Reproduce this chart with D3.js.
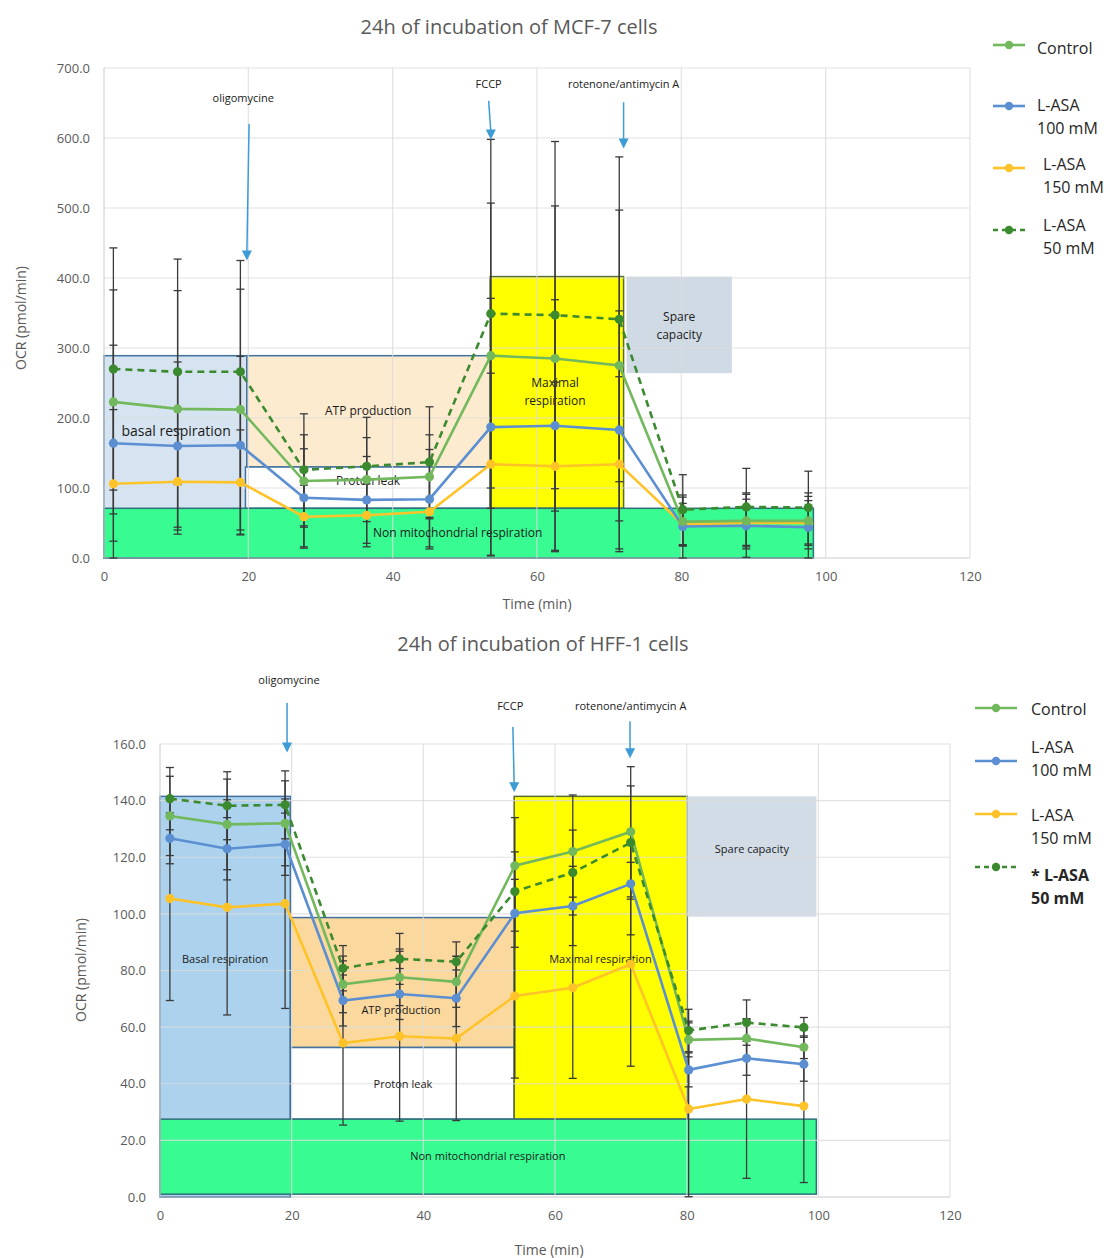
<!DOCTYPE html>
<html><head><meta charset="utf-8">
<script src="https://cdn.jsdelivr.net/npm/d3@7"></script>
<style>body{margin:0;background:#fff}svg{display:block}text{font-family:"Open Sans",sans-serif}</style>
</head><body><svg id="c" width="1110" height="1258"></svg>
<script>
// ---------- Data: MCF-7 ----------
const mcfTimes = [1.3, 10.2, 18.9, 27.7, 36.4, 45.1, 53.6, 62.5, 71.4, 80.2, 89.0, 97.6];
const mcfControl = [223, 213, 212, 110, 112, 116, 289, 285, 275, 52, 53, 53];
const mcfAsa100 = [164, 160, 161, 86, 83, 84, 187, 189, 183, 45, 46, 44];
const mcfAsa150 = [106, 109, 108, 59, 61, 66, 134, 131, 134, 48, 50, 50];
const mcfAsa50 = [270, 266, 266, 126, 131, 137, 349, 347, 341, 69, 73, 72];
const mcfErrControl = [160, 169, 172, 66, 60, 60, 218, 218, 222, 35, 40, 40];
const mcfErrAsa100 = [140, 120, 127, 70, 62, 71, 184, 180, 170, 45, 45, 44];
const mcfErrAsa150 = [106, 75, 75, 45, 45, 50, 130, 120, 125, 30, 34, 32];
const mcfErrAsa50 = [173, 161, 159, 80, 70, 79, 249, 248, 232, 50, 55, 52];
const mcfYTicks = [0, 100, 200, 300, 400, 500, 600, 700];
const mcfXTicks = [0, 20, 40, 60, 80, 100, 120];
const mcfRegions = [
  {name:"basal", x0:0, x1:19.8, y0:0, y1:289},
  {name:"atp", x0:19.8, x1:53.5, y0:130, y1:289},
  {name:"leak", x0:19.6, x1:53.5, y0:71, y1:130},
  {name:"max", x0:53.5, x1:72, y0:71, y1:402},
  {name:"spare", x0:72.4, x1:87, y0:264, y1:402},
  {name:"nonmito", x0:0, x1:98.3, y0:0, y1:71}
];
const mcfRegionLabels = [
  {lines:["basal respiration"], x:10, y:181, size:14},
  {lines:["ATP production"], x:36.6, y:210, size:12},
  {lines:["Proton leak"], x:36.6, y:110, size:12},
  {lines:["Non mitochondrial respiration"], x:49, y:36, size:12},
  {lines:["Maximal","respiration"], x:62.5, y:250, size:12},
  {lines:["Spare","capacity"], x:79.7, y:344, size:12}
];
const mcfInjections = [
  {label:"oligomycine", lx:19.3, ly:657, x0:20.1, y0:620, x1:19.8, y1:425},
  {label:"FCCP", lx:53.3, ly:677, x0:53.3, y0:653, x1:53.6, y1:598},
  {label:"rotenone/antimycin A", lx:72.0, ly:677, x0:72.0, y0:651, x1:72.0, y1:585}
];

// ---------- Data: HFF-1 ----------
const hffTimes = [1.5, 10.2, 19.0, 27.8, 36.4, 45.0, 53.9, 62.7, 71.5, 80.3, 89.1, 97.8];
const hffControl = [134.6, 131.6, 132.0, 75.1, 77.6, 76.0, 117.0, 122.0, 129.0, 55.5, 56.0, 52.9];
const hffAsa100 = [126.7, 123.0, 124.6, 69.4, 71.7, 70.2, 100.2, 102.8, 110.6, 44.9, 49.0, 46.9];
const hffAsa150 = [105.4, 102.3, 103.6, 54.4, 56.8, 56.0, 71.0, 73.9, 82.2, 31.1, 34.6, 32.1];
const hffAsa50 = [140.7, 138.2, 138.5, 80.8, 84.1, 83.1, 107.9, 114.6, 125.2, 58.8, 61.6, 59.9];
const hffErrControl = [14, 16, 15, 10, 10, 9, 17, 20, 23, 6, 7, 4];
const hffErrAsa100 = [9, 11, 11, 9, 9, 10, 12, 14, 18, 6, 6, 6];
const hffErrAsa150 = [36, 38, 37, 29, 30, 29, 29, 32, 36, 31, 28, 27];
const hffErrAsa50 = [11, 12, 12, 8, 9, 7, 14, 15, 20, 7.5, 8, 3.5];
const hffYTicks = [0, 20, 40, 60, 80, 100, 120, 140, 160];
const hffXTicks = [0, 20, 40, 60, 80, 100, 120];
const hffRegions = [
  {name:"basal", x0:0, x1:19.8, y0:0, y1:141.5},
  {name:"atp", x0:19.8, x1:53.8, y0:52.8, y1:98.7},
  {name:"leak", x0:19.8, x1:53.8, y0:27.5, y1:52.8},
  {name:"max", x0:53.8, x1:80.1, y0:27.5, y1:141.5},
  {name:"spare", x0:80.1, x1:99.7, y0:99, y1:141.5},
  {name:"nonmito", x0:0, x1:99.7, y0:1, y1:27.5}
];
const hffRegionLabels = [
  {lines:["Basal respiration"], x:9.9, y:84, size:11},
  {lines:["ATP production"], x:36.6, y:66, size:11},
  {lines:["Proton leak"], x:36.9, y:40, size:11},
  {lines:["Non mitochondrial respiration"], x:49.8, y:14.6, size:11},
  {lines:["Maximal respiration"], x:66.9, y:84, size:11},
  {lines:["Spare capacity"], x:89.9, y:123, size:11}
];
const hffInjections = [
  {label:"oligomycine", lx:19.6, ly:182.5, x0:19.3, y0:174.5, x1:19.3, y1:157},
  {label:"FCCP", lx:53.2, ly:173.4, x0:53.6, y0:166, x1:53.8, y1:143},
  {label:"rotenone/antimycin A", lx:71.5, ly:173.4, x0:71.4, y0:168, x1:71.4, y1:155}
];

// ---------- Legend ----------
const legendMCF = [
  {lines:["Control"], bold:false},
  {lines:["L-ASA","100 mM"], bold:false},
  {lines:["L-ASA","150 mM"], bold:false},
  {lines:["L-ASA","50 mM"], bold:false}
];
const legendHFF = [
  {lines:["Control"], bold:false},
  {lines:["L-ASA","100 mM"], bold:false},
  {lines:["L-ASA","150 mM"], bold:false},
  {lines:["* L-ASA","50 mM"], bold:true}
];

const seriesStyle = [
  {color:"#72b85c", dash:null},
  {color:"#5b8fd1", dash:null},
  {color:"#ffc32a", dash:null},
  {color:"#3b8a2f", dash:"7,5"}
];
const regionStyleMCF = {
  basal:{fill:"#d6e4f1", stroke:"#41719c"},
  atp:{fill:"#fdebd0", stroke:"#41719c"},
  leak:{fill:"#ffffff", stroke:"#41719c"},
  max:{fill:"#ffff00", stroke:"#566b2f"},
  spare:{fill:"#d0dae4", stroke:"none"},
  nonmito:{fill:"#38fb91", stroke:"#2f6f7a"}
};
const regionStyleHFF = {
  basal:{fill:"#acd2ed", stroke:"#41719c"},
  atp:{fill:"#fbd99e", stroke:"#41719c"},
  leak:{fill:"#ffffff", stroke:"#41719c"},
  max:{fill:"#ffff00", stroke:"#566b2f"},
  spare:{fill:"#d2dce6", stroke:"none"},
  nonmito:{fill:"#38fb91", stroke:"#2f6f7a"}
};

const svg = d3.select("#c");

function drawChart(cfg) {
  const g = svg.append("g");
  const x = d3.scaleLinear().domain([0,120]).range(cfg.xr);
  const y = d3.scaleLinear().domain(cfg.ydom).range(cfg.yr);
  const reg = g.append("g");
  cfg.regions.forEach(r => {
    const st = cfg.regionStyle[r.name];
    reg.append("rect")
      .attr("x", x(r.x0)).attr("y", y(r.y1))
      .attr("width", x(r.x1)-x(r.x0)).attr("height", y(r.y0)-y(r.y1))
      .attr("fill", st.fill)
      .attr("stroke", st.stroke).attr("stroke-width", cfg.regStroke);
  });
  const gl = g.append("g");
  cfg.yticks.forEach(t => {
    gl.append("line").attr("x1", x(0)).attr("x2", x(120)).attr("y1", y(t)).attr("y2", y(t))
      .attr("stroke", t===0 ? "#bfbfbf" : "#dcdcdc").attr("stroke-width", 1.2).attr("opacity", 0.8);
  });
  cfg.xticks.forEach(t => {
    if (t===0) return;
    gl.append("line").attr("x1", x(t)).attr("x2", x(t)).attr("y1", y(cfg.ydom[0])).attr("y2", y(cfg.ydom[1]))
      .attr("stroke", "#dcdcdc").attr("stroke-width", 1.2).attr("opacity", 0.8);
  });
  gl.append("line").attr("x1", x(0)).attr("x2", x(0)).attr("y1", y(cfg.ydom[0])).attr("y2", y(cfg.ydom[1]))
    .attr("stroke", "#d0d0d0").attr("stroke-width", 1.2);
  cfg.regionLabels.forEach(l => {
    const t = g.append("text").attr("text-anchor","middle").attr("font-size", l.size)
      .attr("fill","#1a1a1a");
    l.lines.forEach((ln,i) => {
      t.append("tspan").attr("x", x(l.x)).attr("y", y(l.y) + i*l.size*1.5).attr("dy","0.35em").text(ln);
    });
  });
  const eb = g.append("g").attr("stroke","#3a3a3a").attr("stroke-width",1.3);
  cfg.series.forEach((s, si) => {
    s.vals.forEach((v, i) => {
      const e = s.err[i];
      const xi = x(cfg.times[i]);
      const lo = Math.max(cfg.ydom[0], v - e), hi = v + e;
      eb.append("line").attr("x1", xi).attr("x2", xi).attr("y1", y(lo)).attr("y2", y(hi));
      eb.append("line").attr("x1", xi-4).attr("x2", xi+4).attr("y1", y(hi)).attr("y2", y(hi));
      eb.append("line").attr("x1", xi-4).attr("x2", xi+4).attr("y1", y(lo)).attr("y2", y(lo));
    });
  });
  const line = d3.line().x((d,i) => x(cfg.times[i])).y(d => y(d));
  const order = [2,1,0,3];
  order.forEach(si => {
    const s = cfg.series[si], st = seriesStyle[si];
    g.append("path").datum(s.vals).attr("d", line).attr("fill","none")
      .attr("stroke", st.color).attr("stroke-width", 2.6)
      .attr("stroke-dasharray", st.dash);
    g.selectAll(null).data(s.vals).enter().append("circle")
      .attr("cx", (d,i) => x(cfg.times[i])).attr("cy", d => y(d)).attr("r", 4.6)
      .attr("fill", st.color);
  });
  const ya = g.append("g").attr("transform", `translate(${x(0)},0)`)
    .call(d3.axisLeft(y).tickValues(cfg.yticks).tickFormat(d3.format(".1f")).tickSize(0).tickPadding(14));
  ya.select(".domain").remove();
  ya.selectAll("text").attr("font-size", 13).attr("fill", "#595959").attr("font-family","'Open Sans',sans-serif");
  const xa = g.append("g").attr("transform", `translate(0,${y(cfg.ydom[0])})`)
    .call(d3.axisBottom(x).tickValues(cfg.xticks).tickFormat(d3.format("d")).tickSize(0).tickPadding(14));
  xa.select(".domain").remove();
  xa.selectAll("text").attr("font-size", 13).attr("fill", "#595959").attr("font-family","'Open Sans',sans-serif");
  cfg.injections.forEach(inj => {
    g.append("text").attr("x", x(inj.lx)).attr("y", y(inj.ly)).attr("dy","0.35em").attr("text-anchor","middle")
      .attr("font-size", 11).attr("fill","#1a1a1a").text(inj.label);
    const x0 = x(inj.x0), y0 = y(inj.y0), x1 = x(inj.x1), y1 = y(inj.y1);
    g.append("line").attr("x1", x0).attr("y1", y0).attr("x2", x1).attr("y2", y1 - 8)
      .attr("stroke", "#3d9bd6").attr("stroke-width", 1.5);
    g.append("path").attr("d", `M${x1-5},${y1-10}L${x1+5},${y1-10}L${x1},${y1}Z`).attr("fill","#3d9bd6");
  });
  g.append("text").attr("x", cfg.title.x).attr("y", cfg.title.y).attr("text-anchor","middle")
    .attr("font-size", 20).attr("fill","#595959").text(cfg.title.text);
  g.append("text").attr("transform", `translate(${cfg.ylabel.x},${cfg.ylabel.y}) rotate(-90)`)
    .attr("text-anchor","middle").attr("font-size", 14).attr("fill","#595959").text("OCR (pmol/min)");
  g.append("text").attr("x", cfg.xlabel.x).attr("y", cfg.xlabel.y).attr("text-anchor","middle")
    .attr("font-size", 14).attr("fill","#595959").text("Time (min)");
  cfg.legend.forEach((it, i) => {
    const ly = cfg.legendPos.ys[i];
    const st = seriesStyle[i];
    g.append("line").attr("x1", cfg.legendPos.x0).attr("x2", cfg.legendPos.x0 + cfg.legendPos.len)
      .attr("y1", ly.line).attr("y2", ly.line).attr("stroke", st.color).attr("stroke-width", 2.6)
      .attr("stroke-dasharray", st.dash ? "5,4" : null);
    g.append("circle").attr("cx", cfg.legendPos.x0 + cfg.legendPos.len/2).attr("cy", ly.line).attr("r", 4.2).attr("fill", st.color);
    const t = g.append("text").attr("font-size", 16).attr("fill","#262626")
      .attr("font-weight", it.bold ? "bold" : null);
    it.lines.forEach((ln, j) => {
      t.append("tspan").attr("x", cfg.legendPos.tx + (ly.dx||0)).attr("y", ly.text + j*23).text(ln);
    });
  });
}

drawChart({
  xr:[104, 970], yr:[558, 68], ydom:[0,700],
  times: mcfTimes,
  series:[
    {vals:mcfControl, err:mcfErrControl},
    {vals:mcfAsa100, err:mcfErrAsa100},
    {vals:mcfAsa150, err:mcfErrAsa150},
    {vals:mcfAsa50, err:mcfErrAsa50}
  ],
  yticks: mcfYTicks, xticks: mcfXTicks,
  regions: mcfRegions, regionLabels: mcfRegionLabels, injections: mcfInjections,
  regionStyle: regionStyleMCF,
  regStroke: 1.5,
  title:{text:"24h of incubation of MCF-7 cells", x:509, y:34},
  ylabel:{x:26, y:318}, xlabel:{x:537, y:609},
  legend: legendMCF,
  legendPos:{x0:993, len:32, tx:1037, ys:[
    {line:45, text:54}, {line:106, text:111}, {line:168, text:170, dx:6}, {line:230, text:231, dx:6}
  ]}
});

drawChart({
  xr:[160, 950], yr:[1197, 744], ydom:[0,160],
  times: hffTimes,
  series:[
    {vals:hffControl, err:hffErrControl},
    {vals:hffAsa100, err:hffErrAsa100},
    {vals:hffAsa150, err:hffErrAsa150},
    {vals:hffAsa50, err:hffErrAsa50}
  ],
  yticks: hffYTicks, xticks: hffXTicks,
  regions: hffRegions, regionLabels: hffRegionLabels, injections: hffInjections,
  regionStyle: regionStyleHFF,
  regStroke: 1.5,
  title:{text:"24h of incubation of HFF-1 cells", x:543, y:651},
  ylabel:{x:86, y:970}, xlabel:{x:549, y:1255},
  legend: legendHFF,
  legendPos:{x0:975, len:42, tx:1031, ys:[
    {line:708, text:715}, {line:761, text:753}, {line:814, text:821}, {line:867, text:881}
  ]}
});
</script></body></html>
